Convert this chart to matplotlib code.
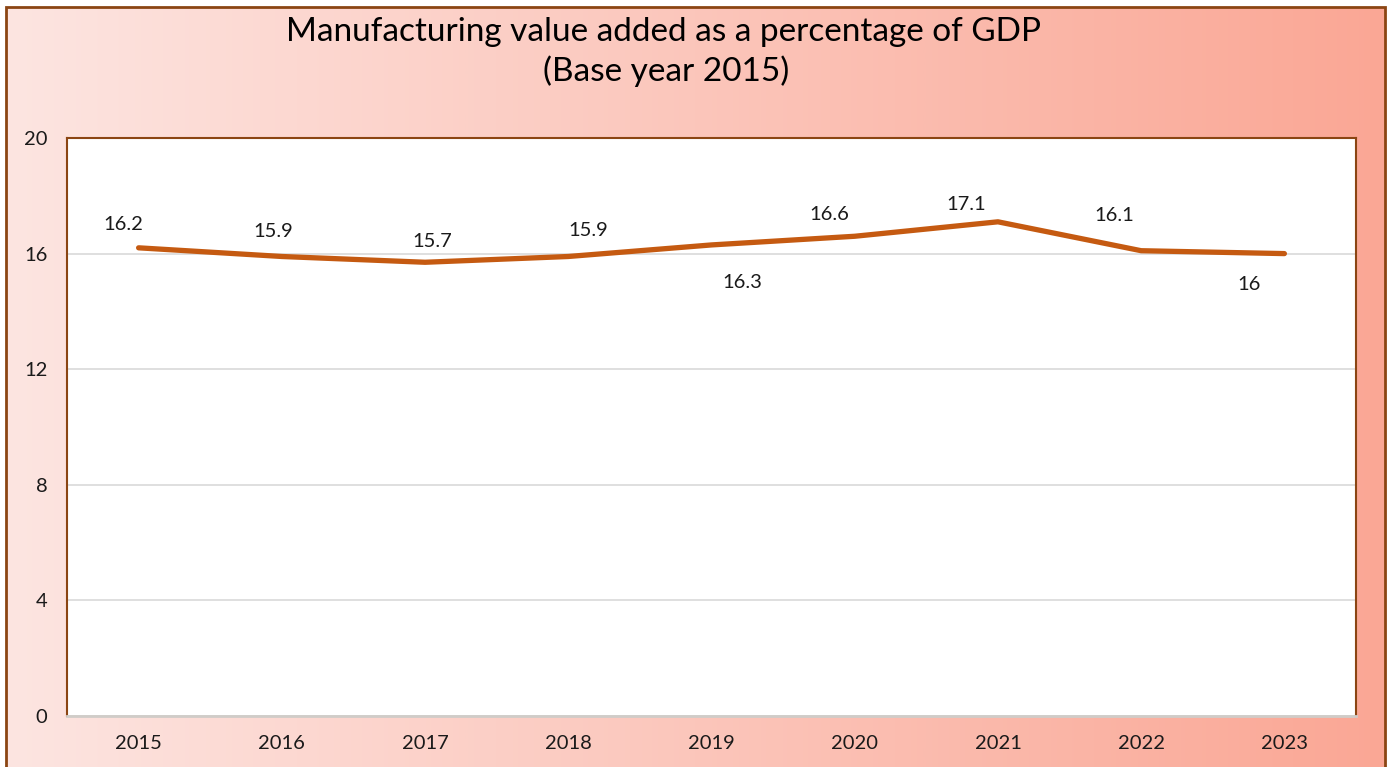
import numpy as np
import matplotlib
matplotlib.use("Agg")
import matplotlib.pyplot as plt
from matplotlib.patches import Rectangle
from matplotlib.colors import LinearSegmentedColormap

years = ["2015", "2016", "2017", "2018", "2019", "2020", "2021", "2022", "2023"]
values = [16.2, 15.9, 15.7, 15.9, 16.3, 16.6, 17.1, 16.1, 16.0]
label_texts = ["16.2", "15.9", "15.7", "15.9", "16.3", "16.6", "17.1", "16.1", "16"]
yticks = [0, 4, 8, 12, 16, 20]

# styling: manual data-label offsets in pixels (dx, dy up-positive)
label_offsets = [(-15, 23), (-9, 25), (7, 21), (20, 26), (31, -38),
                 (-25, 22), (-32, 17), (-27, 35), (-35, -31)]

plt.rcParams['font.family'] = ['Lato', 'DejaVu Sans']

W, H = 1390, 767
fig = plt.figure(figsize=(W / 100, H / 100), dpi=100)
fig.patch.set_facecolor("white")

# gradient background inside outer border
bx0, bx1 = 6 / W, 1385 / W
by1 = 1 - 7 / H
bg = fig.add_axes([bx0, 0, bx1 - bx0, by1], zorder=0)
cmap = LinearSegmentedColormap.from_list("g", ["#FDE5E1", "#FAA795"])
grad = np.linspace(0, 1, 512).reshape(1, -1)
bg.imshow(grad, aspect="auto", cmap=cmap, extent=[0, 1, 0, 1])
bg.set_xlim(0, 1)
bg.set_ylim(0, 1)
bg.axis("off")
border = Rectangle((bx0, -0.02), bx1 - bx0, by1 + 0.02, transform=fig.transFigure,
                   fill=False, edgecolor="#8B4513", linewidth=2, zorder=5)
fig.patches.append(border)

ax = fig.add_axes([67 / W, 1 - 716 / H, (1356 - 67) / W, (716 - 138) / H], zorder=1)
ax.set_facecolor("white")
x = np.arange(len(years))
ax.plot(x, values, color="#C55A11", linewidth=3.8, solid_capstyle="round", zorder=3)
for xi, v, t, (dx, dy) in zip(x, values, label_texts, label_offsets):
    ax.annotate(t, (xi, v), xytext=(dx, dy), textcoords="offset pixels",
                ha="center", va="center", fontsize=14.5, color="#1a1a1a")

ax.set_xlim(-0.5, len(years) - 0.5)
ax.set_ylim(0, 20)
ax.set_yticks(yticks)
ax.set_yticklabels([str(t) for t in yticks])
ax.set_xticks(x)
ax.set_xticklabels(years)
ax.tick_params(axis="both", length=0, labelsize=14.5, colors="#1a1a1a")
ax.tick_params(axis="y", pad=14)
ax.tick_params(axis="x", pad=14)
ax.grid(axis="y", color="#D9D9D9", linewidth=1.2)
ax.set_axisbelow(True)
for s in ["left", "top", "right"]:
    ax.spines[s].set_color("#8B4513")
    ax.spines[s].set_linewidth(1.5)
ax.spines["bottom"].set_color("#D0CCC8")
ax.spines["bottom"].set_linewidth(2)

fig.text(0.477, 1 - 32 / H, "Manufacturing value added as a percentage of GDP",
         ha="center", va="center", fontsize=24, color="black")
fig.text(0.479, 1 - 71 / H, "(Base year 2015)",
         ha="center", va="center", fontsize=24, color="black")

fig.savefig("out.png", dpi=100)
